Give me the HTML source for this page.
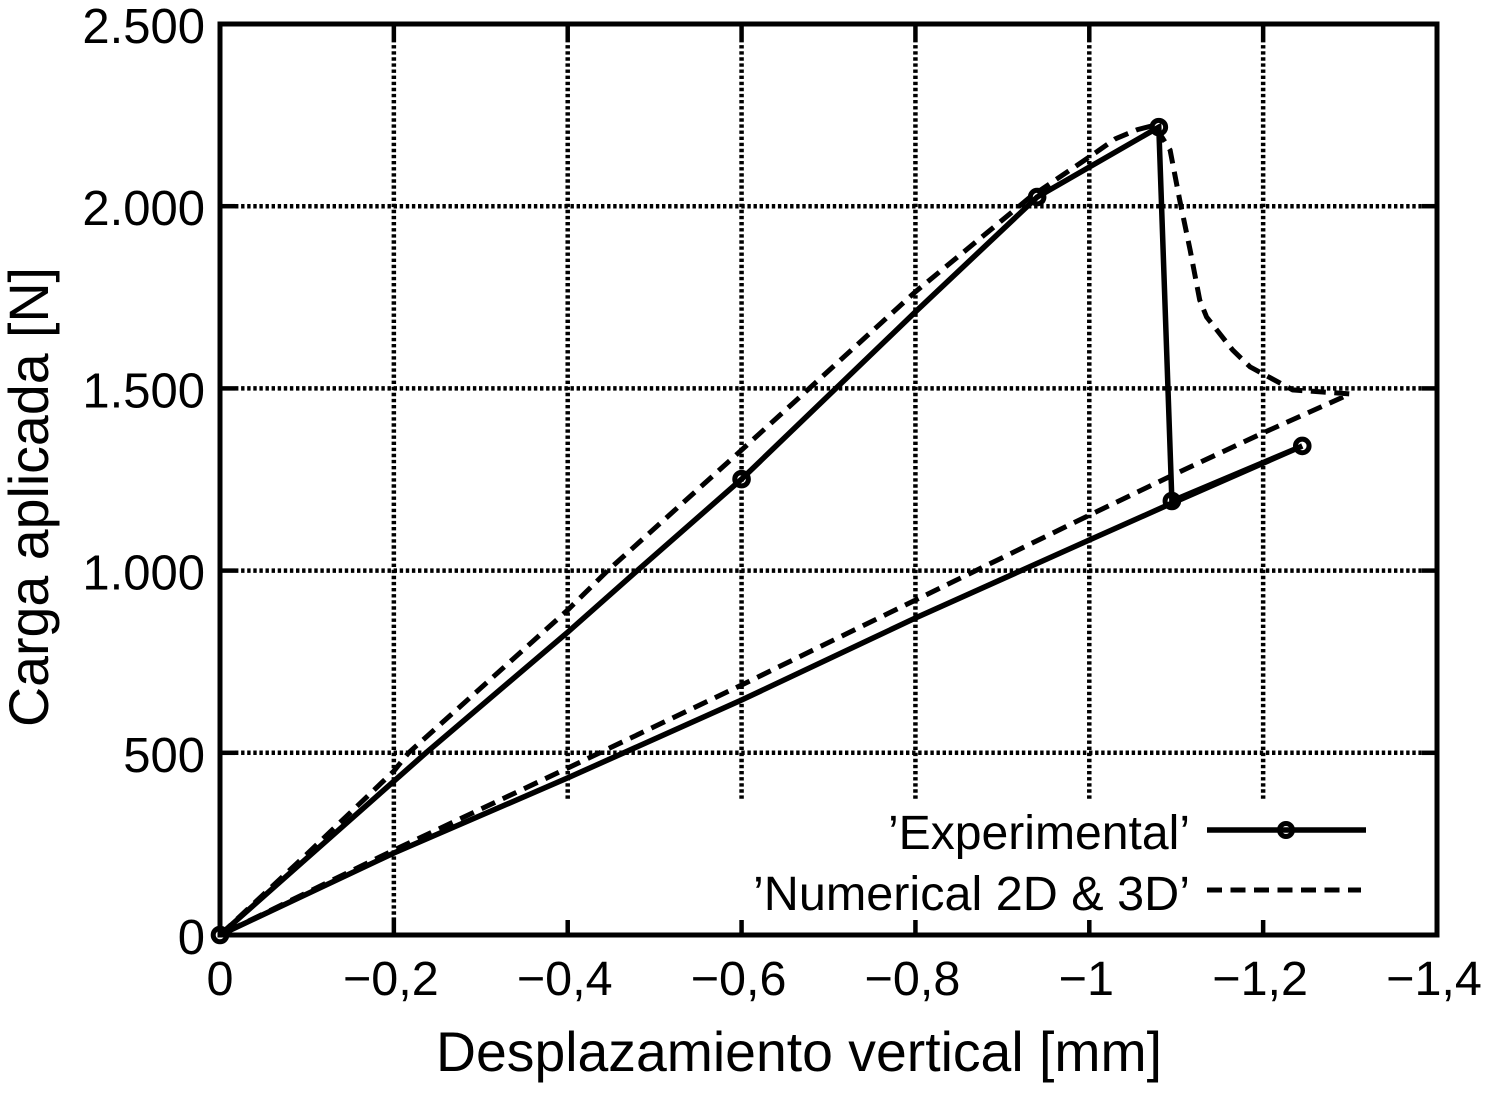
<!DOCTYPE html>
<html>
<head>
<meta charset="utf-8">
<style>
html,body{margin:0;padding:0;background:#fff;}
svg{display:block;}
text{font-family:"Liberation Sans",sans-serif;fill:#000;}
</style>
</head>
<body>
<svg id="chart" xmlns="http://www.w3.org/2000/svg" width="1486" height="1097" viewBox="0 0 1486 1097"></svg>
<script>
var xTickValues = [0, -0.2, -0.4, -0.6, -0.8, -1, -1.2, -1.4];
var xTickLabels = ['0', '\u22120,2', '\u22120,4', '\u22120,6', '\u22120,8', '\u22121', '\u22121,2', '\u22121,4'];
var yTickValues = [0, 500, 1000, 1500, 2000, 2500];
var yTickLabels = ['0', '500', '1.000', '1.500', '2.000', '2.500'];
var experimentalX = [0, -0.237, -0.4, -0.48, -0.6, -0.8, -0.94, -1.08, -1.095, -1.245, -1.095, -1, -0.8, -0.6, -0.4, -0.2, 0];
var experimentalY = [0, 500, 831, 1000, 1251, 1710, 2025, 2217, 1191, 1342, 1185, 1084, 870, 645, 431, 225, 0];
var experimentalMarkers = [0, 4, 6, 7, 8, 9];
var numericalX = [0, -0.1, -0.2, -0.217, -0.4, -0.446, -0.6, -0.8, -0.932, -1.0, -1.03, -1.055, -1.075, -1.093, -1.104, -1.116, -1.127, -1.135, -1.165, -1.185, -1.234, -1.3, -1.2, -1.096, -1, -0.8, -0.6, -0.4, -0.2, 0];
var numericalY = [0, 222, 450, 500, 892, 1000, 1331, 1765, 2025, 2135, 2185, 2210, 2222, 2154, 2017, 1880, 1743, 1696, 1605, 1559, 1496, 1485, 1378, 1262, 1152, 919, 686, 458, 233, 0];

var svg = document.getElementById('chart');
var NS = 'http://www.w3.org/2000/svg';
var LEFT = 220, RIGHT = 1437, TOP = 24, BOTTOM = 935;
var X_MIN = 0, X_MAX = -1.4, Y_MIN = 0, Y_MAX = 2500;
function sx(v){ return LEFT + (v - X_MIN) / (X_MAX - X_MIN) * (RIGHT - LEFT); }
function sy(v){ return BOTTOM - (v - Y_MIN) / (Y_MAX - Y_MIN) * (BOTTOM - TOP); }
function make(tag, attrs, text){
  var el = document.createElementNS(NS, tag);
  for (var k in attrs) el.setAttribute(k, attrs[k]);
  if (text !== undefined) el.textContent = text;
  svg.appendChild(el);
  return el;
}
function polyPoints(xs, ys){
  return xs.map(function(x, i){ return sx(x).toFixed(1) + ',' + sy(ys[i]).toFixed(1); }).join(' ');
}
var el;
var DOT = '3.4 2.7';

// Horizontal gridlines and ticks
yTickValues.forEach(function(v, i){
  var y = sy(v);
  if (v !== 0 && v !== 2500) {
    el = make('line', {x1: LEFT + 15, x2: RIGHT - 15, y1: y, y2: y, stroke: '#000', 'stroke-width': 4.5, 'stroke-dasharray': DOT});
    
    
    el = make('line', {x1: LEFT, x2: LEFT + 15, y1: y, y2: y, stroke: '#000', 'stroke-width': 4.5});
    
    
    el = make('line', {x1: RIGHT - 15, x2: RIGHT, y1: y, y2: y, stroke: '#000', 'stroke-width': 4.5});
    
    
  }
  el = make('text', {x: 205, y: y + 19, 'text-anchor': 'end', 'font-size': 49}, yTickLabels[i]);
  
  
});

// Vertical gridlines and ticks
xTickValues.forEach(function(v, i){
  var x = sx(v);
  if (v !== 0 && v !== -1.4) {
    var gridEnd = v === -0.2 ? BOTTOM - 15 : 801;
    el = make('line', {x1: x, x2: x, y1: TOP + 15, y2: gridEnd, stroke: '#000', 'stroke-width': 4.5, 'stroke-dasharray': DOT});
    
    
    el = make('line', {x1: x, x2: x, y1: TOP, y2: TOP + 15, stroke: '#000', 'stroke-width': 4.5});
    
    
    el = make('line', {x1: x, x2: x, y1: BOTTOM - 15, y2: BOTTOM, stroke: '#000', 'stroke-width': 4.5});
    
    
  }
  el = make('text', {x: x - (i === 0 ? 0 : 3), y: 995, 'text-anchor': 'middle', 'font-size': 48.5}, xTickLabels[i]);
  
  
});

// Plot frame
el = make('rect', {x: LEFT, y: TOP, width: RIGHT - LEFT, height: BOTTOM - TOP, fill: 'none', stroke: '#000', 'stroke-width': 5});



// Numerical series
el = make('polyline', {points: polyPoints(numericalX, numericalY), fill: 'none', stroke: '#000', 'stroke-width': 5, 'stroke-dasharray': '15 8.5', 'stroke-miterlimit': 30});



// Experimental series
el = make('polyline', {points: polyPoints(experimentalX, experimentalY), fill: 'none', stroke: '#000', 'stroke-width': 5.5, 'stroke-linejoin': 'miter'});


experimentalMarkers.forEach(function(idx){
  el = make('circle', {cx: sx(experimentalX[idx]), cy: sy(experimentalY[idx]), r: 6.8, fill: 'none', stroke: '#000', 'stroke-width': 5});
  
  
});

// Axis titles
el = make('text', {x: 799, y: 1071, 'text-anchor': 'middle', 'font-size': 56, textLength: 726, lengthAdjust: 'spacingAndGlyphs'}, 'Desplazamiento vertical [mm]');


el = make('text', {x: 0, y: 0, 'text-anchor': 'middle', 'font-size': 56, transform: 'translate(48 497) rotate(-90)', textLength: 460, lengthAdjust: 'spacingAndGlyphs'}, 'Carga aplicada [N]');



// Legend
el = make('text', {x: 1190, y: 849, 'text-anchor': 'end', 'font-size': 48, textLength: 302, lengthAdjust: 'spacingAndGlyphs'}, '\u2019Experimental\u2019');


el = make('line', {x1: 1207, x2: 1366, y1: 830, y2: 830, stroke: '#000', 'stroke-width': 5.5});


el = make('circle', {cx: 1286, cy: 830, r: 6.5, fill: 'none', stroke: '#000', 'stroke-width': 5});


el = make('text', {x: 1190, y: 910, 'text-anchor': 'end', 'font-size': 48, textLength: 437, lengthAdjust: 'spacingAndGlyphs'}, '\u2019Numerical 2D & 3D\u2019');


el = make('line', {x1: 1207, x2: 1361, y1: 890, y2: 890, stroke: '#000', 'stroke-width': 5, 'stroke-dasharray': '15 8.5'});


</script>
</body>
</html>
